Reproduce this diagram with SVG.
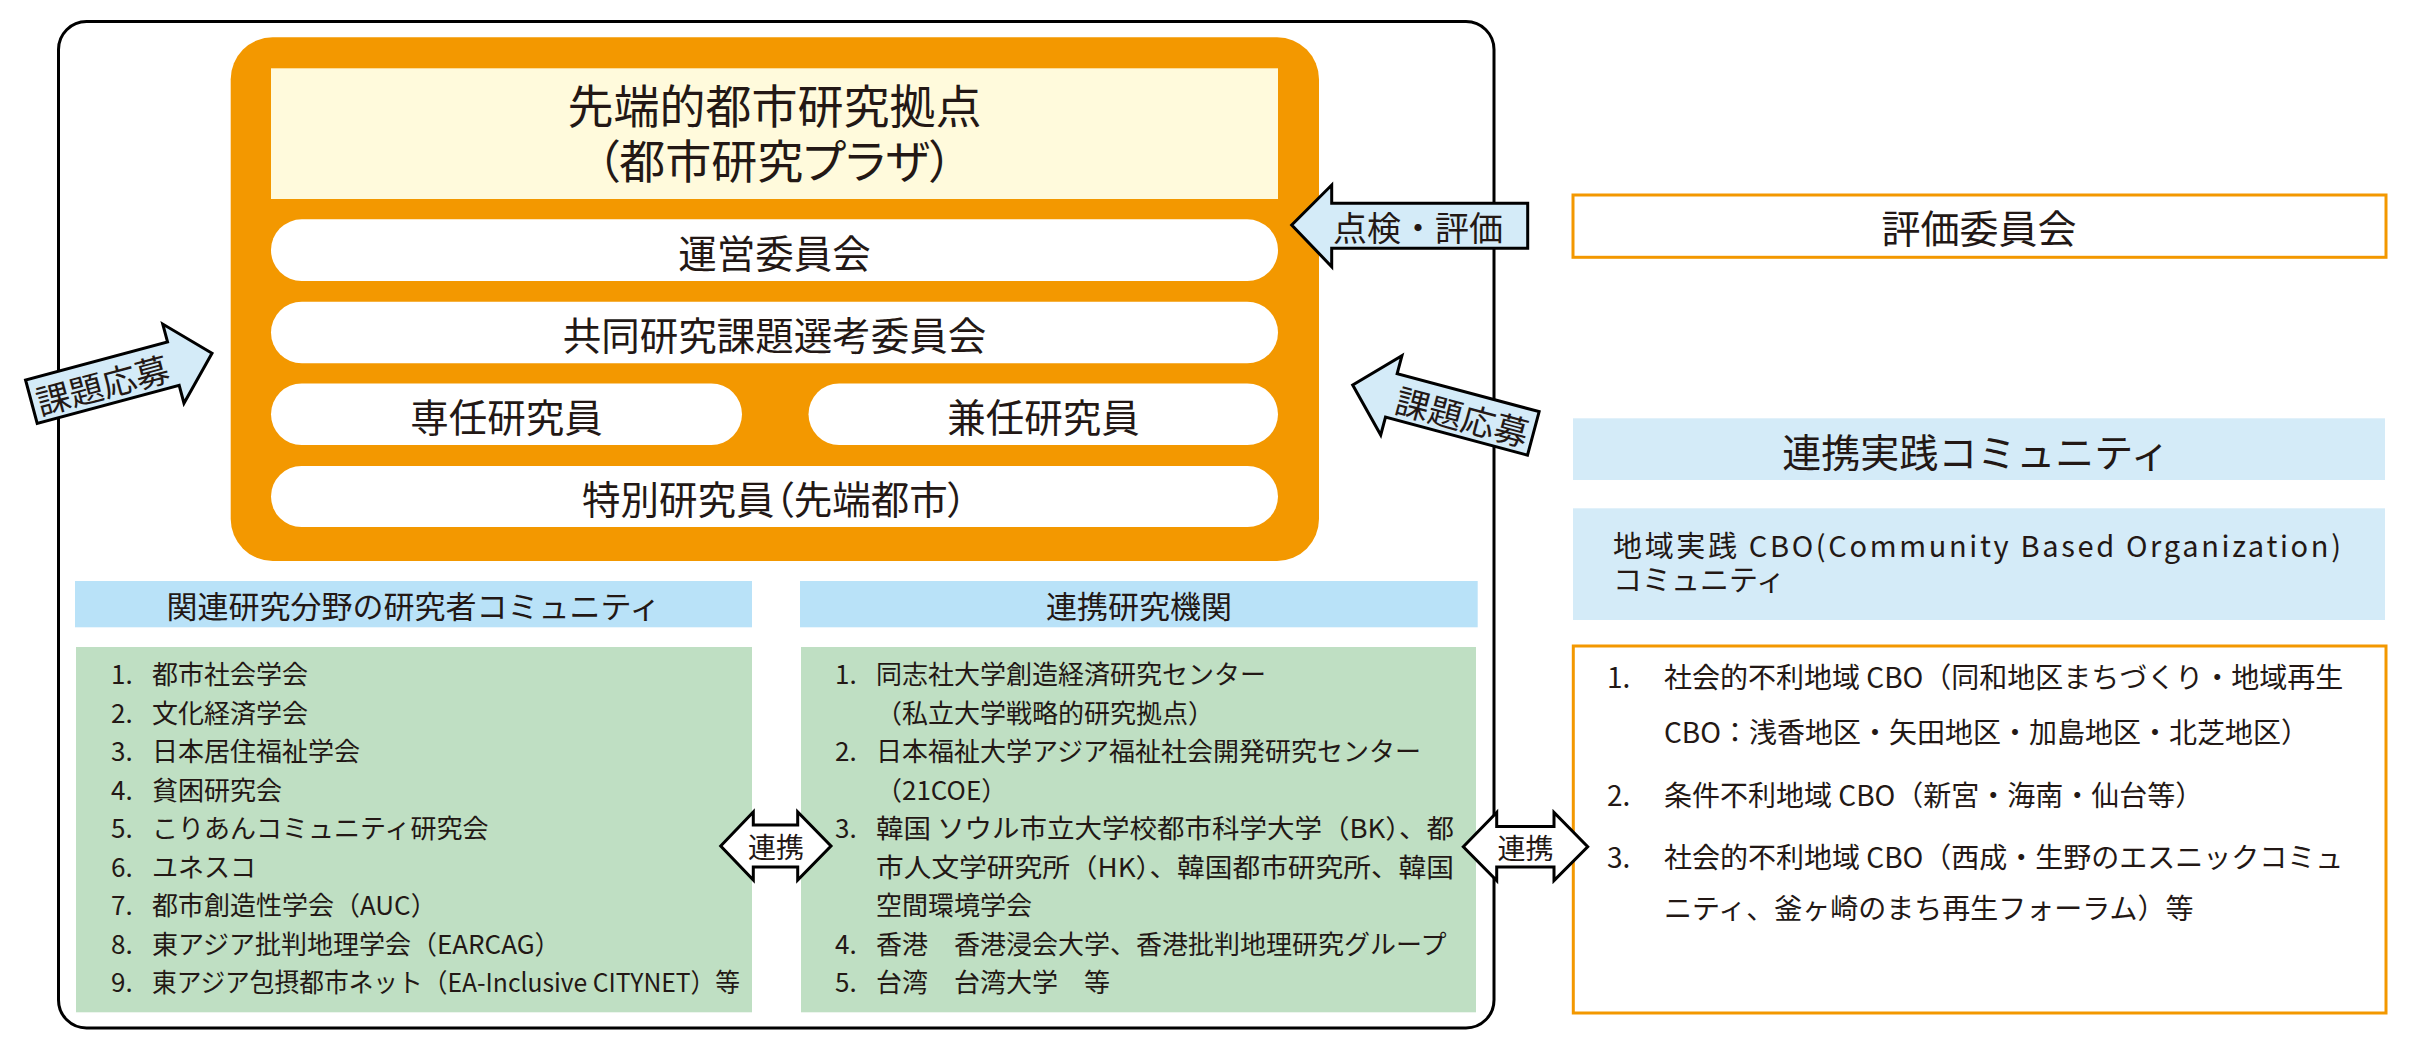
<svg xmlns="http://www.w3.org/2000/svg" width="2411" height="1045" viewBox="0 0 2411 1045">
<style>
text{font-family:"Noto Sans CJK JP","Noto Sans",sans-serif;fill:#231815}
.c{text-anchor:middle;dominant-baseline:central}
.t1{font-size:46px}
.pill{fill:#ffffff}
.pt{font-size:38.5px}
.hd{fill:#b9e2f8}
.ht{font-size:31px}
.gr{fill:#bfdfc3}
.li{font-size:26px}
.pb{fill:#d4ebf8}
.ob{fill:#ffffff;stroke:#f39800;stroke-width:3}
.arr{fill:#d4ebf8;stroke:#000;stroke-width:3;stroke-linejoin:miter}
.darr{fill:#ffffff;stroke:#000;stroke-width:3;stroke-linejoin:miter}
.at{font-size:34px}
.dt{font-size:28px}
.cl{font-size:28px}
.palt{font-feature-settings:"palt"}
</style>

<g id="outer-frame">
<rect x="58.5" y="21.5" width="1435.5" height="1006.5" rx="28" ry="28" fill="#ffffff" stroke="#000" stroke-width="3"/>
</g>

<g id="hub">
<rect x="230.7" y="37.3" width="1088.3" height="523.7" rx="42" ry="42" fill="#f39800"/>
<rect x="271" y="68.3" width="1007" height="130.7" fill="#fffadc"/>
<text class="t1" text-anchor="middle"><tspan x="774.5" y="122.5">先端的都市研究拠点</tspan><tspan class="palt" x="774.5" y="178">（都市研究プラザ）</tspan></text>
</g>

<g id="unei">
<rect class="pill" x="271" y="219.3" width="1007" height="61.7" rx="30.8" ry="30.8"/>
<text class="c pt" x="774.5" y="250.5">運営委員会</text>
</g>
<g id="kyodo">
<rect class="pill" x="271" y="301.7" width="1007" height="61.6" rx="30.8" ry="30.8"/>
<text class="c pt" x="774.5" y="332.5">共同研究課題選考委員会</text>
</g>
<g id="sennin">
<rect class="pill" x="271" y="383.5" width="471" height="61.5" rx="30.7" ry="30.7"/>
<text class="c pt" x="506.5" y="414.5">専任研究員</text>
</g>
<g id="kennin">
<rect class="pill" x="808.5" y="383.5" width="469.5" height="61.5" rx="30.7" ry="30.7"/>
<text class="c pt" x="1043.5" y="414.5">兼任研究員</text>
</g>
<g id="tokubetsu">
<rect class="pill" x="271" y="466" width="1007" height="61" rx="30.5" ry="30.5"/>
<text class="c pt palt" x="774.5" y="496.5">特別研究員（先端都市）</text>
</g>

<g id="community-header">
<rect class="hd" x="75" y="581" width="677" height="46.3"/>
<text class="c ht" x="413.5" y="604">関連研究分野の研究者コミュニティ</text>
</g>
<g id="community-list">
<rect class="gr" x="76" y="647" width="676" height="365.3"/>
<text class="li" y="684"><tspan x="111">1.</tspan><tspan x="152">都市社会学会</tspan></text>
<text class="li" y="722.5"><tspan x="111">2.</tspan><tspan x="152">文化経済学会</tspan></text>
<text class="li" y="761"><tspan x="111">3.</tspan><tspan x="152">日本居住福祉学会</tspan></text>
<text class="li" y="799.5"><tspan x="111">4.</tspan><tspan x="152">貧困研究会</tspan></text>
<text class="li" y="838"><tspan x="111">5.</tspan><tspan x="152">こりあんコミュニティ研究会</tspan></text>
<text class="li" y="876.5"><tspan x="111">6.</tspan><tspan x="152">ユネスコ</tspan></text>
<text class="li" y="915"><tspan x="111">7.</tspan><tspan x="152">都市創造性学会（AUC）</tspan></text>
<text class="li" y="953.5"><tspan x="111">8.</tspan><tspan x="152">東アジア批判地理学会（EARCAG）</tspan></text>
<text class="li" y="992"><tspan x="111">9.</tspan><tspan x="152" textLength="588" lengthAdjust="spacingAndGlyphs">東アジア包摂都市ネット（EA-Inclusive CITYNET）等</tspan></text>
</g>

<g id="institutions-header">
<rect class="hd" x="800" y="581" width="677.7" height="46.3"/>
<text class="c ht" x="1139" y="604">連携研究機関</text>
</g>
<g id="institutions-list">
<rect class="gr" x="801" y="647" width="675" height="365.3"/>
<text class="li" y="684"><tspan x="835">1.</tspan><tspan x="876">同志社大学創造経済研究センター</tspan></text>
<text class="li" y="722.5"><tspan x="876">（私立大学戦略的研究拠点）</tspan></text>
<text class="li" y="761"><tspan x="835">2.</tspan><tspan x="876">日本福祉大学アジア福祉社会開発研究センター</tspan></text>
<text class="li" y="799.5"><tspan x="876">（21COE）</tspan></text>
<text class="li" y="838"><tspan x="835">3.</tspan><tspan x="876" textLength="578" lengthAdjust="spacingAndGlyphs">韓国 ソウル市立大学校都市科学大学（BK）、都</tspan></text>
<text class="li" y="876.5"><tspan x="876" textLength="578" lengthAdjust="spacingAndGlyphs">市人文学研究所（HK）、韓国都市研究所、韓国</tspan></text>
<text class="li" y="915"><tspan x="876">空間環境学会</tspan></text>
<text class="li" y="953.5"><tspan x="835">4.</tspan><tspan x="876">香港　香港浸会大学、香港批判地理研究グループ</tspan></text>
<text class="li" y="992"><tspan x="835">5.</tspan><tspan x="876">台湾　台湾大学　等</tspan></text>
</g>

<g id="hyoka-iinkai">
<rect class="ob" x="1573" y="195" width="813" height="62.3"/>
<text class="c" x="1979" y="226" style="font-size:39px">評価委員会</text>
</g>
<g id="renkei-community">
<rect class="pb" x="1573" y="418.3" width="812" height="61.7"/>
<text class="c" x="1976" y="450" style="font-size:39px">連携実践コミュニティ</text>
</g>
<g id="cbo-community">
<rect class="pb" x="1573" y="508.3" width="812" height="111.7"/>
<text style="font-size:29px"><tspan x="1613" y="557" textLength="728" lengthAdjust="spacing">地域実践 CBO(Community Based Organization)</tspan><tspan x="1613" y="591">コミュニティ</tspan></text>
</g>
<g id="cbo-list">
<rect class="ob" x="1573.3" y="646" width="812.7" height="367"/>
<text class="cl" y="688"><tspan x="1607">1.</tspan><tspan x="1664">社会的不利地域 CBO（同和地区まちづくり・地域再生</tspan></text>
<text class="cl" y="743"><tspan x="1664">CBO：浅香地区・矢田地区・加島地区・北芝地区）</tspan></text>
<text class="cl" y="806"><tspan x="1607">2.</tspan><tspan x="1664">条件不利地域 CBO（新宮・海南・仙台等）</tspan></text>
<text class="cl" y="868"><tspan x="1607">3.</tspan><tspan x="1664">社会的不利地域 CBO（西成・生野のエスニックコミュ</tspan></text>
<text class="cl" y="919"><tspan x="1664">ニティ、釜ヶ崎のまち再生フォーラム）等</tspan></text>
</g>

<g id="connectors">
<g id="arrow-tenken">
<polygon class="arr" points="1291.7,225 1331.7,185 1331.7,203.3 1527.7,203.3 1527.7,248.3 1331.7,248.3 1331.7,266.7"/>
<text class="c at" x="1418" y="226">点検・評価</text>
</g>
<g id="arrow-kadai-right" transform="translate(1352.7,385) rotate(15)">
<polygon class="arr" points="0,0 40,-41 40,-22.5 187,-22.5 187,22.5 40,22.5 40,41"/>
<text class="c at" x="114" y="1">課題応募</text>
</g>
<g id="arrow-kadai-left" transform="translate(212,353.3) rotate(-15)">
<polygon class="arr" points="0,0 -40,-41 -40,-22.5 -187,-22.5 -187,22.5 -40,22.5 -40,41"/>
<text class="c at" x="-114" y="1">課題応募</text>
</g>
<g id="renkei-1">
<polygon class="darr" points="720.7,846 753.3,812 753.3,825 797.7,825 797.7,812 831,846 797.7,880 797.7,867 753.3,867 753.3,880"/>
<text class="c dt" x="776" y="846">連携</text>
</g>
<g id="renkei-2">
<polygon class="darr" points="1463.3,846.7 1496.7,812.5 1496.7,826.5 1554,826.5 1554,812.5 1587.7,846.7 1554,880.5 1554,867 1496.7,867 1496.7,880.5"/>
<text class="c dt" x="1525.5" y="847">連携</text>
</g>
</g>
</svg>
